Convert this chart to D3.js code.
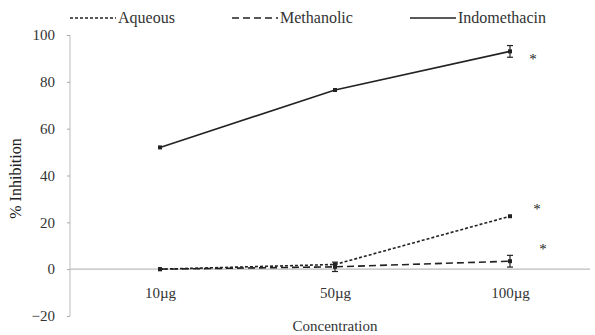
<!DOCTYPE html>
<html><head><meta charset="utf-8">
<script src="https://cdn.jsdelivr.net/npm/d3@7"></script>
<style>body{margin:0;background:#fff}svg{display:block}svg text{font-family:"Liberation Serif","Times New Roman","DejaVu Serif",serif !important}</style>
</head><body><svg id="c" width="595" height="335"></svg>
<script>
const categories = ["10µg", "50µg", "100µg"];
const yTicks = [-20, 0, 20, 40, 60, 80, 100];
const aqueous = [0, 2, 22.6];
const methanolic = [0, 1, 3.4];
const indomethacin = [52, 76.5, 93];
const aqueousErr = [0, 0, 0];
const methanolicErr = [0, 2, 2.5];
const indomethacinErr = [0, 0, 2.5];
const seriesNames = ["Aqueous", "Methanolic", "Indomethacin"];
const starValues = [91, 27, 10];

const FONT = '"Liberation Serif", "Times New Roman", "DejaVu Serif", serif';
const svg = d3.select("#c");
const y = d3.scaleLinear().domain([-20, 100]).range([316, 35]);
const x = d3.scalePoint().domain(categories).range([160, 510]);
const ink = "#222";
const dashes = ["3,2", "7,4", null];
const series = [aqueous, methanolic, indomethacin];
const errs = [aqueousErr, methanolicErr, indomethacinErr];

// y axis
const yAxis = d3.axisLeft(y).tickValues(yTicks).tickSize(3).tickPadding(12).tickFormat(d3.format("d"));
const gy = svg.append("g").attr("transform", "translate(70,0)").call(yAxis).attr("font-family", FONT);
gy.select(".domain").attr("stroke", "#bbb").attr("d", `M0,${y(100)}V${y(-20)}`);
gy.selectAll(".tick line").attr("stroke", "#aaa");
gy.selectAll(".tick text").attr("font-size", 15).attr("fill", "#333");

// zero baseline
svg.append("line").attr("x1", 70).attr("x2", 590).attr("y1", y(0)).attr("y2", y(0)).attr("stroke", "#bbb").attr("stroke-width", 1.2);

// category labels
const xAxis = d3.axisBottom(x).tickSize(0).tickPadding(0);
const gx = svg.append("g").attr("transform", `translate(0,${y(0)})`).call(xAxis).attr("font-family", FONT);
gx.select(".domain").remove();
gx.selectAll(".tick text").attr("font-size", 15).attr("fill", "#333").attr("dy", "1.9em");

// lines
const line = d3.line().x((d, i) => x(categories[i])).y(d => y(d));
series.forEach((s, k) => {
  svg.append("path").datum(s).attr("d", line).attr("fill", "none")
    .attr("stroke", ink).attr("stroke-width", 1.6)
    .attr("stroke-dasharray", dashes[k]);
  s.forEach((v, i) => {
    const e = errs[k][i];
    if (e > 0) {
      const cx = x(categories[i]);
      const g = svg.append("g").attr("stroke", ink).attr("stroke-width", 1.2);
      g.append("line").attr("x1", cx).attr("x2", cx).attr("y1", y(v + e)).attr("y2", y(v - e));
      g.append("line").attr("x1", cx - 3).attr("x2", cx + 3).attr("y1", y(v + e)).attr("y2", y(v + e));
      g.append("line").attr("x1", cx - 3).attr("x2", cx + 3).attr("y1", y(v - e)).attr("y2", y(v - e));
    }
  });
  svg.selectAll(null).data(s).enter().append("rect")
    .attr("x", (d, i) => x(categories[i]) - 2).attr("y", d => y(d) - 2)
    .attr("width", 4).attr("height", 4).attr("fill", ink);
});

// significance stars
const starOffsets = [23, 27, 33];
starValues.forEach((v, k) => {
  svg.append("text").attr("x", x("100µg") + starOffsets[k]).attr("y", y(v) + 8)
    .attr("text-anchor", "middle").attr("font-size", 15).attr("font-family", FONT)
    .attr("fill", "#222").text("*");
});

// legend
const legX = [70, 232, 410];
seriesNames.forEach((n, k) => {
  svg.append("line").attr("x1", legX[k]).attr("x2", legX[k] + 46).attr("y1", 18).attr("y2", 18)
    .attr("stroke", ink).attr("stroke-width", 1.6).attr("stroke-dasharray", dashes[k]);
  svg.append("text").attr("x", legX[k] + 48).attr("y", 23).attr("font-size", 16)
    .attr("font-family", FONT).attr("fill", "#333").text(n);
});

// axis titles
svg.append("text").attr("transform", `translate(21,${(y(60) + y(20)) / 2 + 3}) rotate(-90)`)
  .attr("text-anchor", "middle").attr("font-size", 16).attr("font-family", FONT).attr("fill", "#222").text("% Inhibition");
svg.append("text").attr("x", 335).attr("y", 331).attr("text-anchor", "middle")
  .attr("font-size", 15).attr("font-family", FONT).attr("fill", "#333").text("Concentration");
</script></body></html>
